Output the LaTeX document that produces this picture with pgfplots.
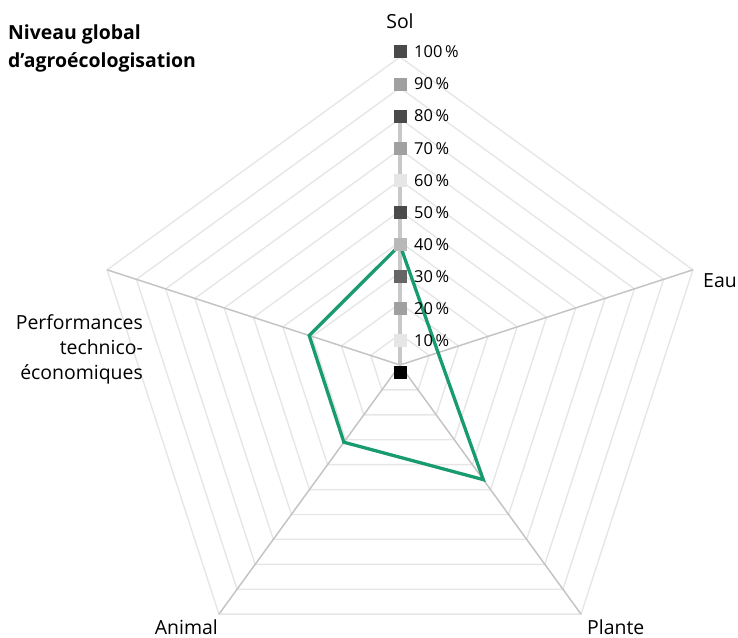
\documentclass[border=0pt]{standalone}
\usepackage{pgfplots}
\pgfplotsset{compat=1.18}
\usepackage{fontspec}
\setmainfont{Open Sans}
\definecolor{ring}{HTML}{E6E6E6}
\definecolor{spoke}{HTML}{C4C4C4}
\definecolor{solaxis}{HTML}{C8C8C8}
\definecolor{green}{RGB}{24,155,112}
\definecolor{sqA}{HTML}{4A4A4A}
\definecolor{sqB}{HTML}{A0A0A0}
\definecolor{sqC}{HTML}{E6E6E6}
\definecolor{sqD}{HTML}{666666}
\definecolor{sqE}{HTML}{B8B8B8}
\begin{document}
\begin{tikzpicture}[x=1bp,y=1bp]
\begin{axis}[
  at={(0,0)}, anchor=south west,
  scale only axis, width=738bp, height=638bp,
  xmin=-129.87, xmax=109.74, ymin=-88.64, ymax=118.51,
  hide axis, clip=false,
  data cs=polar,
]
% grid rings
\addplot[ring, line width=1.4bp] coordinates {(90,10) (18,10) (-54,10) (-126,10) (162,10) (90,10)};
\addplot[ring, line width=1.4bp] coordinates {(90,20) (18,20) (-54,20) (-126,20) (162,20) (90,20)};
\addplot[ring, line width=1.4bp] coordinates {(90,30) (18,30) (-54,30) (-126,30) (162,30) (90,30)};
\addplot[ring, line width=1.4bp] coordinates {(90,40) (18,40) (-54,40) (-126,40) (162,40) (90,40)};
\addplot[ring, line width=1.4bp] coordinates {(90,50) (18,50) (-54,50) (-126,50) (162,50) (90,50)};
\addplot[ring, line width=1.4bp] coordinates {(90,60) (18,60) (-54,60) (-126,60) (162,60) (90,60)};
\addplot[ring, line width=1.4bp] coordinates {(90,70) (18,70) (-54,70) (-126,70) (162,70) (90,70)};
\addplot[ring, line width=1.4bp] coordinates {(90,80) (18,80) (-54,80) (-126,80) (162,80) (90,80)};
\addplot[ring, line width=1.4bp] coordinates {(90,90) (18,90) (-54,90) (-126,90) (162,90) (90,90)};
\addplot[ring, line width=1.4bp] coordinates {(90,100) (18,100) (-54,100) (-126,100) (162,100) (90,100)};
% spokes
\addplot[spoke, line width=1.5bp] coordinates {(18,0) (18,100)};
\addplot[spoke, line width=1.5bp] coordinates {(-54,0) (-54,100)};
\addplot[spoke, line width=1.5bp] coordinates {(-126,0) (-126,100)};
\addplot[spoke, line width=1.5bp] coordinates {(162,0) (162,100)};
\addplot[solaxis, line width=4bp] coordinates {(90,0) (90,81)};
% data
\addplot[green, line width=3.3bp, line join=miter] coordinates {(90,39) (18,13) (-54,46) (-126,31) (162,31) (90,39)};
\draw[draw=none] (rel axis cs:0,0) rectangle (rel axis cs:1,1);
\end{axis}
% radial scale squares and labels
\foreach \k/\c/\t in {0/black/,1/sqC/10\,\%,2/sqB/20\,\%,3/sqD/30\,\%,4/sqE/40\,\%,5/sqA/50\,\%,6/sqC/60\,\%,7/sqB/70\,\%,8/sqA/80\,\%,9/sqB/90\,\%,10/sqA/100\,\%}{
  \node[fill=\c, minimum size=13bp, inner sep=0pt] at (400, {265+32.1*\k}) {};
  \node[anchor=base west, inner sep=0pt, font=\fontsize{16.5}{19}\selectfont] at (414, {265+32.1*\k-5.8}) {\t};
}
\begin{scope}[every node/.style={inner sep=0pt, font=\fontsize{19.5}{23}\selectfont}]
\node[anchor=base] at (400,609) {Sol};
\node[anchor=base west] at (703,351) {Eau};
\node[anchor=base west] at (587,4) {Plante};
\node[anchor=base east] at (218,4) {Animal};
\node[anchor=base east] at (143,309) {Performances};
\node[anchor=base east] at (143,284) {technico-};
\node[anchor=base east] at (143,259) {économiques};
\node[anchor=base west, font=\fontsize{19.5}{23}\selectfont\bfseries] at (8,598) {Niveau global};
\node[anchor=base west, font=\fontsize{19.5}{23}\selectfont\bfseries] at (8,570) {d’agroécologisation};
\end{scope}
\end{tikzpicture}
\end{document}
